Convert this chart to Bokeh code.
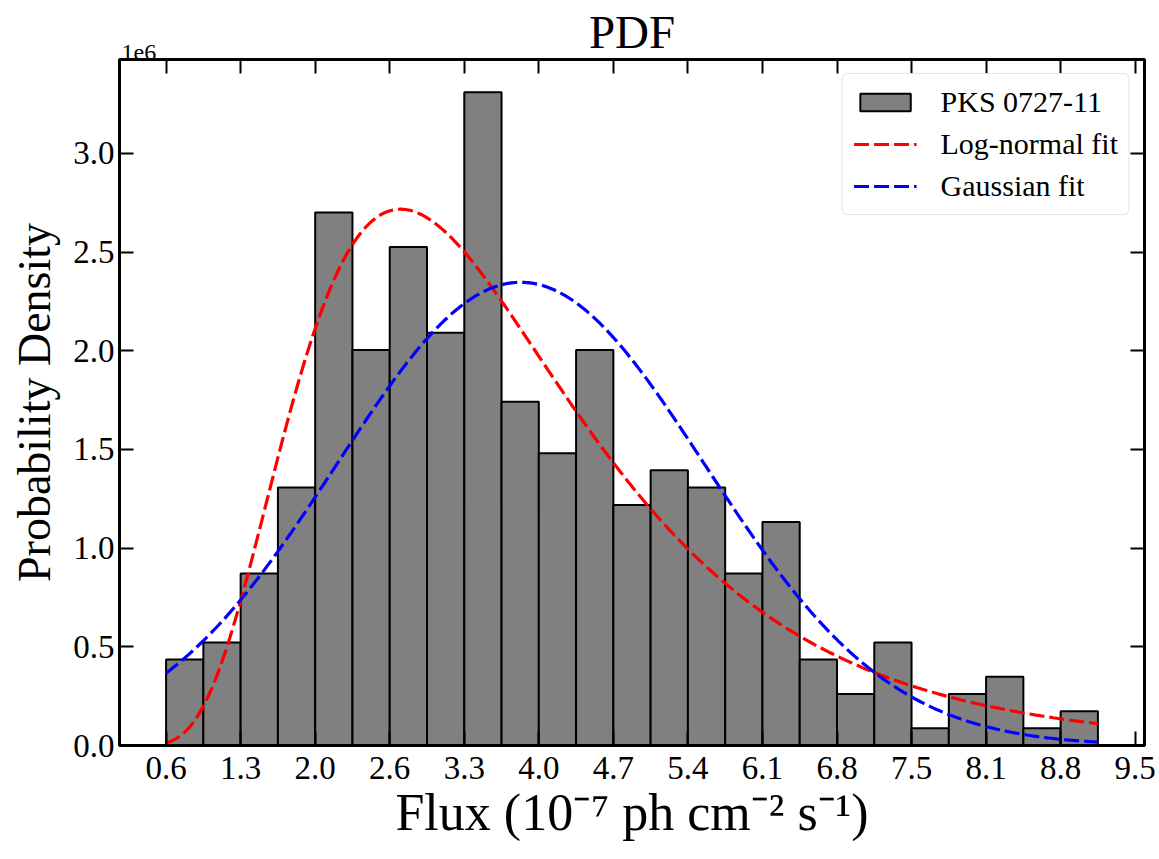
import numpy as np
from bokeh.plotting import figure
from bokeh.models import Range1d, LinearAxis, FixedTicker, Legend, LegendItem, Title, ColumnDataSource
from bokeh.embed import file_html
from bokeh.resources import INLINE

# ---------------- data ----------------
bin_start = 0.575          # first bin edge, 10^-7 ph cm^-2 s^-1
bin_width = 0.34425        # histogram bin width
densities = [0.436, 0.522, 0.871, 1.307, 2.700, 2.004, 2.526, 2.091, 3.310, 1.742,
             1.481, 2.004, 1.219, 1.394, 1.307, 0.871, 1.132, 0.436, 0.261, 0.522,
             0.087, 0.261, 0.348, 0.087, 0.174]          # x 1e6
lognorm_mu = 1.2365
lognorm_sigma = 0.478
gauss_mu = 3.85
gauss_sigma = 1.70
x_tick_labels = ["0.6", "1.3", "2.0", "2.6", "3.3", "4.0", "4.7", "5.4",
                 "6.1", "6.8", "7.5", "8.1", "8.8", "9.5"]
x_tick_step = 0.6885
y_ticks = [0.0, 0.5, 1.0, 1.5, 2.0, 2.5, 3.0]
series_names = ["PKS 0727-11", "Log-normal fit", "Gaussian fit"]
y_offset_text = "1e6"

FONT = "Liberation Serif"

n_bins = len(densities)
lefts = [bin_start + i * bin_width for i in range(n_bins)]
rights = [l + bin_width for l in lefts]
bin_end = rights[-1]
x_tick_values = [bin_start + k * x_tick_step for k in range(len(x_tick_labels))]

xc = np.linspace(bin_start, bin_end, 500)
logn = 10.0 * np.exp(-(np.log(xc) - lognorm_mu) ** 2 / (2 * lognorm_sigma ** 2)) / (xc * lognorm_sigma * np.sqrt(2 * np.pi))
gaus = 10.0 * np.exp(-(xc - gauss_mu) ** 2 / (2 * gauss_sigma ** 2)) / (gauss_sigma * np.sqrt(2 * np.pi))

span = bin_end - bin_start
x_range = Range1d(bin_start - 0.05 * span, bin_end + 0.05 * span)
y_range = Range1d(0, max(densities) * 1.05)

p = figure(width=1159, height=859, x_range=x_range, y_range=y_range,
           output_backend="svg", toolbar_location=None,
           min_border_left=119, min_border_top=59, min_border_right=15, min_border_bottom=114)
p.xgrid.visible = False
p.ygrid.visible = False
p.outline_line_color = "black"
p.outline_line_width = 3
p.background_fill_color = "white"
p.border_fill_color = "white"

p.title.text = "PDF"
p.title.align = "center"
p.title.text_font = FONT
p.title.text_font_size = "47px"
p.title.text_font_style = "normal"
p.title.text_color = "black"
p.title.standoff = -30

src = ColumnDataSource(dict(left=lefts, right=rights, top=densities, bottom=[0] * n_bins))
bars = p.quad(left="left", right="right", top="top", bottom="bottom", source=src,
              fill_color="#808080", line_color="black", line_width=2)
r_log = p.line(xc, logn, line_color="red", line_width=3.2, line_dash="15 5")
r_gau = p.line(xc, gaus, line_color="blue", line_width=3.2, line_dash="15 5")


def style_axis(ax, labels=True):
    ax.axis_line_width = 3
    ax.axis_line_color = "black"
    ax.major_tick_in = 14
    ax.major_tick_out = 0
    ax.major_tick_line_width = 2
    ax.major_tick_line_color = "black"
    ax.minor_tick_line_color = None
    ax.major_label_text_font = FONT
    ax.major_label_text_font_size = "33px" if labels else "1px"
    ax.major_label_text_color = "black"


xa = p.xaxis[0]
xa.ticker = FixedTicker(ticks=x_tick_values)
xa.major_label_overrides = {v: s for v, s in zip(x_tick_values, x_tick_labels)}
style_axis(xa)
xa.major_label_standoff = 11
xa.axis_label = "Flux (10\u207b\u2077 ph cm\u207b\u00b2 s\u207b\u00b9)"
xa.axis_label_text_font = FONT
xa.axis_label_text_font_size = "52px"
xa.axis_label_text_font_style = "normal"
xa.axis_label_text_color = "black"
xa.axis_label_standoff = 2

ya = p.yaxis[0]
ya.ticker = FixedTicker(ticks=y_ticks)
ya.major_label_overrides = {v: "%.1f" % v for v in y_ticks}
style_axis(ya)
ya.major_label_standoff = 5
ya.axis_label = "Probability Density"
ya.axis_label_text_font = FONT
ya.axis_label_text_font_size = "46px"
ya.axis_label_text_font_style = "normal"
ya.axis_label_text_color = "black"
ya.axis_label_standoff = 10

top_ax = LinearAxis(ticker=FixedTicker(ticks=x_tick_values))
top_ax.major_label_overrides = {v: "" for v in x_tick_values}
style_axis(top_ax, labels=False)
top_ax.major_label_standoff = 0
p.add_layout(top_ax, "above")

# scale-factor text of the y axis (matplotlib's offset text), sits just above the frame
offset_title = Title(text=y_offset_text, align="left", offset=2, standoff=0,
                     text_font=FONT, text_font_size="24px", text_font_style="normal",
                     text_color="black")
p.add_layout(offset_title, "above")

right_ax = LinearAxis(ticker=FixedTicker(ticks=y_ticks))
right_ax.major_label_overrides = {v: "" for v in y_ticks}
style_axis(right_ax, labels=False)
right_ax.major_label_standoff = 0
p.add_layout(right_ax, "right")

legend = Legend(items=[LegendItem(label=series_names[0], renderers=[bars]),
                       LegendItem(label=series_names[1], renderers=[r_log]),
                       LegendItem(label=series_names[2], renderers=[r_gau])],
                location="top_right")
legend.label_text_font = FONT
legend.label_text_font_size = "30px"
legend.label_text_color = "black"
legend.glyph_width = 63
legend.glyph_height = 22
legend.label_standoff = 24
legend.spacing = 8
legend.padding = 11
legend.margin = 14
legend.border_line_color = "#cccccc"
legend.border_line_width = 1.5
legend.background_fill_alpha = 0.8
legend.border_radius = 6
p.add_layout(legend)

open("out.html", "w").write(file_html(p, INLINE))
